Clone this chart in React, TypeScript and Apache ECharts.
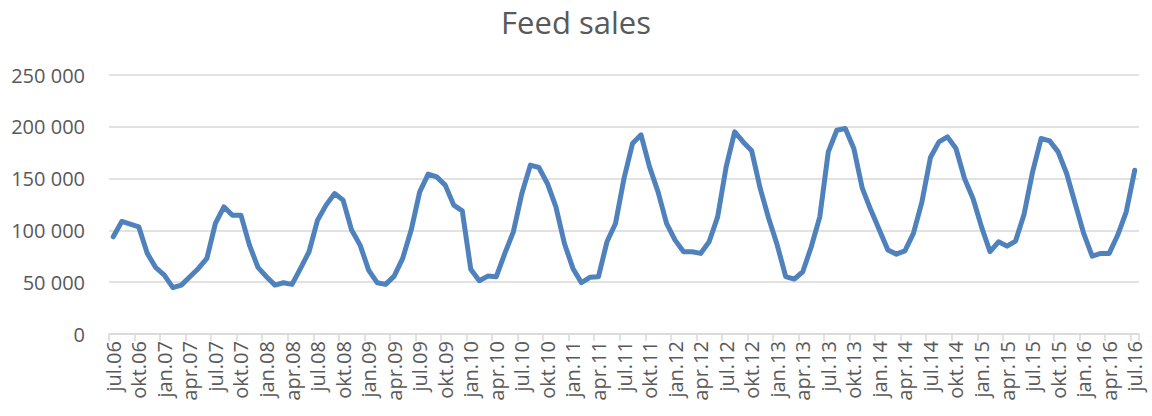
import React, { useEffect, useRef } from "react";
import * as echarts from "echarts";

const monthNames = ["jan", "feb", "mar", "apr", "mai", "jun", "jul", "aug", "sep", "okt", "nov", "des"];

// Monthly categories jul.06 .. jul.16
const categories: string[] = [];
for (let y = 2006; y <= 2016; y++) {
  for (let m = 0; m < 12; m++) {
    if (y === 2006 && m < 6) continue;
    if (y === 2016 && m > 6) continue;
    categories.push(`${monthNames[m]}.${String(y % 100).padStart(2, "0")}`);
  }
}

const sales2006 = [93800, 108600, 106000, 103400, 77800, 64000];
const sales2007 = [56900, 44700, 47200, 55300, 63300, 73000, 106700, 122700, 114700, 114700, 85800, 64300];
const sales2008 = [55300, 47200, 49500, 47900, 63300, 79400, 109900, 124400, 135600, 129200, 100300, 85800];
const sales2009 = [61700, 49500, 47900, 55900, 73000, 100300, 137200, 154300, 151700, 143700, 124400, 118900];
const sales2010 = [62400, 51400, 55900, 55300, 77800, 98600, 135600, 163000, 160700, 145300, 122700, 87400];
const sales2011 = [63300, 49500, 54700, 55300, 89000, 106700, 150100, 183900, 192300, 161300, 137200, 106700];
const sales2012 = [90600, 79400, 79400, 77800, 89000, 113100, 161300, 195100, 185400, 176800, 140500, 111500];
const sales2013 = [85800, 55300, 53000, 60100, 84200, 113100, 175800, 196700, 198300, 179000, 140500, 119600];
const sales2014 = [100300, 81000, 77100, 80300, 97100, 127600, 170300, 185400, 190300, 179000, 150100, 130800];
const sales2015 = [103400, 79400, 89000, 84800, 89700, 115700, 156500, 188700, 186400, 175800, 154900, 126000];
const sales2016 = [97100, 75200, 77800, 77800, 95500, 117900, 158100];

const sales = [
  ...sales2006, ...sales2007, ...sales2008, ...sales2009, ...sales2010, ...sales2011,
  ...sales2012, ...sales2013, ...sales2014, ...sales2015, ...sales2016,
];

const fmt = (v: number) => String(v).replace(/\B(?=(\d{3})+(?!\d))/g, " ");

export default function App() {
  const ref = useRef<HTMLDivElement>(null);
  useEffect(() => {
    if (!ref.current) return;
    const chart = echarts.init(ref.current, undefined, { renderer: "svg" });
    chart.setOption({
      animation: false,
      backgroundColor: "#ffffff",
      title: {
        text: "Feed sales",
        left: "center",
        top: 1,
        textStyle: { fontFamily: "Open Sans", fontSize: 31, fontWeight: "normal", color: "#595959" },
      },
      grid: { left: 109, right: 13, top: 75, bottom: 82, containLabel: false },
      xAxis: {
        type: "category",
        data: categories,
        boundaryGap: true,
        axisLine: { show: true, lineStyle: { color: "#d9d9d9", width: 1.5 } },
        axisTick: { show: true, interval: 2, length: 7, lineStyle: { color: "#d9d9d9", width: 1.5 } },
        axisLabel: {
          interval: 2,
          rotate: 90,
          margin: 7,
          fontFamily: "Open Sans",
          fontSize: 20,
          color: "#595959",
        },
        splitLine: { show: false },
      },
      yAxis: {
        type: "value",
        min: 0,
        max: 250000,
        interval: 50000,
        axisLine: { show: false },
        axisTick: { show: false },
        axisLabel: {
          margin: 24,
          fontFamily: "Open Sans",
          fontSize: 20,
          color: "#595959",
          formatter: (v: number) => fmt(v),
        },
        splitLine: { show: true, lineStyle: { color: "#d9d9d9", width: 1.5 } },
      },
      series: [
        {
          type: "line",
          data: sales,
          showSymbol: false,
          symbol: "none",
          lineStyle: { color: "#4f81bd", width: 5, join: "round", cap: "round" },
          itemStyle: { color: "#4f81bd" },
        },
      ],
    });
    return () => chart.dispose();
  }, []);
  return (
    <div
      ref={ref}
      style={{ position: "absolute", left: 0, top: 0, width: 1152, height: 416 }}
    />
  );
}
